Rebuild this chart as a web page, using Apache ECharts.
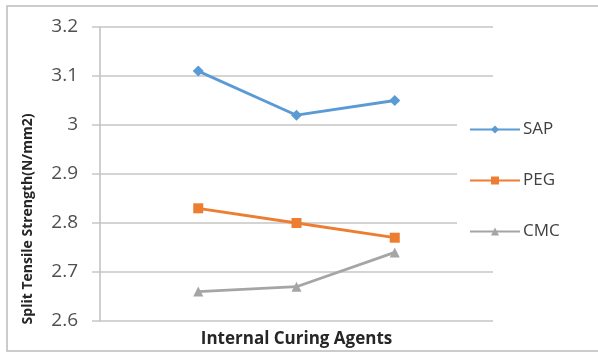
<!DOCTYPE html>
<html>
<head>
<meta charset="utf-8">
<script src="https://cdn.jsdelivr.net/npm/echarts@6/dist/echarts.min.js"></script>
<style>
  html, body { margin: 0; padding: 0; background: #fff; }
  #chart { width: 598px; height: 353px; }
</style>
</head>
<body>
<div id="chart"></div>
<script>
// Three mixes, plotted at positions 1..3 on a 0..4 horizontal scale
const categories = [1, 2, 3];
const seriesNames = ['SAP', 'PEG', 'CMC'];
const sapValues = [3.11, 3.02, 3.05];
const pegValues = [2.83, 2.80, 2.77];
const cmcValues = [2.66, 2.67, 2.74];
const yTicks = [2.6, 2.7, 2.8, 2.9, 3.0, 3.1, 3.2];

const colors = ['#5b9bd5', '#ed7d31', '#a5a5a5'];
const symbols = ['diamond', 'rect', 'triangle'];
const symbolSizes = [11, 10, 10];
const valueSets = [sapValues, pegValues, cmcValues];

const font = '"Open Sans", Lato, "Liberation Sans", sans-serif';

const chart = echarts.init(document.getElementById('chart'), null, { renderer: 'canvas' });

const series = seriesNames.map((name, i) => ({
  name: name,
  type: 'line',
  data: categories.map((c, k) => [c, valueSets[i][k]]),
  symbol: symbols[i],
  symbolSize: symbolSizes[i],
  showSymbol: true,
  lineStyle: { color: colors[i], width: 2.8 },
  itemStyle: { color: colors[i] },
  z: 3
}));

chart.setOption({
  animation: false,
  backgroundColor: '#fff',
  textStyle: { fontFamily: font },
  grid: { left: 100, right: 105, top: 27, bottom: 30, containLabel: false },
  xAxis: {
    type: 'value',
    min: 0,
    max: 4,
    interval: 1,
    name: 'Internal Curing Agents',
    nameLocation: 'middle',
    nameGap: 10,
    nameTextStyle: { fontSize: 17, fontWeight: 'bold', color: '#262626', fontFamily: font },
    axisLine: { show: false },
    axisTick: { show: false },
    axisLabel: { show: false },
    splitLine: { show: false }
  },
  yAxis: {
    type: 'value',
    min: yTicks[0],
    max: yTicks[yTicks.length - 1],
    interval: 0.1,
    axisLine: { show: true, lineStyle: { color: '#bfbfbf', width: 1.5 } },
    axisTick: { show: true, length: 8, lineStyle: { color: '#c8c8c8', width: 1.5 } },
    axisLabel: {
      margin: 22,
      fontSize: 19,
      color: '#505050',
      fontFamily: font,
      formatter: v => String(Math.round(v * 10) / 10)
    },
    splitLine: { show: true, lineStyle: { color: '#d4d4d4', width: 1.8 } }
  },
  legend: {
    orient: 'vertical',
    left: 457,
    top: 111,
    padding: [10, 12, 10, 12],
    backgroundColor: '#fff',
    itemWidth: 50,
    itemHeight: 10,
    itemGap: 34,
    textStyle: { fontSize: 17, color: '#404040', fontFamily: font, padding: [0, 0, 0, -2] },
    data: seriesNames
  },
  graphic: [
    {
      type: 'rect',
      shape: { x: 7, y: 6, width: 620, height: 345 },
      style: { fill: 'none', stroke: '#bcbcbc', lineWidth: 1.5 },
      silent: true,
      z: -1
    },
    {
      type: 'text',
      x: 28,
      y: 219,
      rotation: Math.PI / 2,
      style: {
        text: 'Split Tensile Strength(N/mm2)',
        font: 'bold 14px ' + font,
        fill: '#262626',
        textAlign: 'center',
        textVerticalAlign: 'middle'
      }
    }
  ],
  series: series
});
</script>
</body>
</html>
